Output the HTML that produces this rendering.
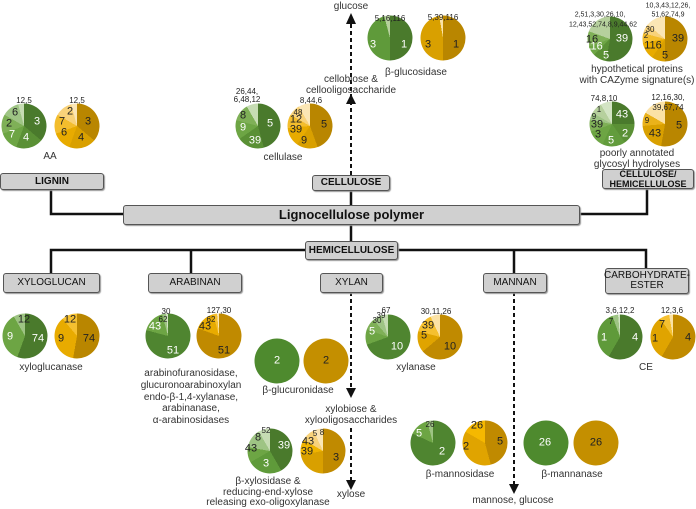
<!DOCTYPE html>
<html><head><meta charset="utf-8"><style>
body{margin:0;width:696px;height:506px;position:relative;background:#fff;font-family:"Liberation Sans",sans-serif;overflow:hidden}
.p{position:absolute;width:45px;height:45px;border-radius:50%;transform:translate(-50%,-50%)}
.t{position:absolute;transform:translate(-50%,-50%);font-size:11px;white-space:nowrap;color:#222;line-height:1}
.w{color:#fff}.s{font-size:8px}.x{font-size:7px}
.l{position:absolute;transform:translateX(-50%);font-size:10px;text-align:center;white-space:nowrap;line-height:10.5px;color:#333}
.b{position:absolute;background:#d0d0d0;border:1.5px solid #555;border-radius:3px;box-sizing:border-box;display:flex;align-items:center;justify-content:center;font-size:10px;color:#111;text-align:center;line-height:10px;box-shadow:1px 1px 1px #999}
.bb{font-weight:bold}
svg{position:absolute;left:0;top:0}
</style></head><body>
<svg width="696" height="506">
<g stroke="#111" stroke-width="2.5" fill="none">
<path d="M51 189V214H123"/><path d="M647 188V214H579"/>
<path d="M351 190V205"/><path d="M351 224V241"/>
<path d="M51 273V250H305"/><path d="M191 250V273"/><path d="M397 250H646V268"/><path d="M514 250V273"/>
</g>
<g stroke="#111" stroke-width="2" fill="none" stroke-dasharray="4,3">
<path d="M351 175V20"/><path d="M351 292V390"/><path d="M351 428V484"/><path d="M514 292V486"/>
</g>
<g fill="#111">
<path d="M346 24L351 13L356 24Z"/><path d="M346 104L351 94L356 104Z"/>
<path d="M346 388L351 398L356 388Z"/><path d="M346 480L351 490L356 480Z"/>
<path d="M509 484L514 494L519 484Z"/>
</g>
</svg>

<div class="b bb" style="left:0;top:173px;width:104px;height:17px">LIGNIN</div>
<div class="b bb" style="left:312px;top:175px;width:78px;height:16px">CELLULOSE</div>
<div class="b bb" style="left:602px;top:169px;width:92px;height:20px;font-size:9px">CELLULOSE/<br>HEMICELLULOSE</div>
<div class="b bb" style="left:123px;top:205px;width:457px;height:20px;font-size:13px">Lignocellulose polymer</div>
<div class="b bb" style="left:305px;top:241px;width:93px;height:19px">HEMICELLULOSE</div>
<div class="b" style="left:3px;top:273px;width:97px;height:20px">XYLOGLUCAN</div>
<div class="b" style="left:148px;top:273px;width:94px;height:20px">ARABINAN</div>
<div class="b" style="left:320px;top:273px;width:63px;height:20px">XYLAN</div>
<div class="b" style="left:483px;top:273px;width:64px;height:20px">MANNAN</div>
<div class="b" style="left:605px;top:268px;width:84px;height:26px">CARBOHYDRATE-<br>ESTER</div>

<!-- AA -->
<div class="p" style="left:24px;top:126px;background:conic-gradient(#4a7a2c 0 130deg,#5a9035 130deg 200deg,#6da544 200deg 250deg,#7fb057 250deg 300deg,#9ec484 300deg 345deg,#c6dcb3 345deg)"></div>
<div class="p" style="left:77px;top:126px;background:conic-gradient(#b98600 0 130deg,#d9a000 130deg 200deg,#e8ab00 200deg 250deg,#f3bd2d 250deg 300deg,#f8d27a 300deg 345deg,#fbe6b5 345deg)"></div>
<div class="t w" style="left:37px;top:122px">3</div><div class="t w" style="left:26px;top:138px">4</div><div class="t w" style="left:12px;top:135px">7</div><div class="t" style="left:9px;top:124px">2</div><div class="t" style="left:15px;top:113px">6</div><div class="t s" style="left:24px;top:101px">12,5</div>
<div class="t" style="left:88px;top:122px">3</div><div class="t" style="left:81px;top:138px">4</div><div class="t" style="left:64px;top:133px">6</div><div class="t" style="left:62px;top:122px">7</div><div class="t" style="left:70px;top:112px">2</div><div class="t s" style="left:77px;top:101px">12,5</div>
<div class="l" style="left:50px;top:152px">AA</div>

<!-- cellulase -->
<div class="p" style="left:258px;top:126px;background:conic-gradient(#4a7a2c 0 165deg,#5a9035 165deg 235deg,#6da544 235deg 285deg,#7fb057 285deg 330deg,#c6dcb3 330deg)"></div>
<div class="p" style="left:310px;top:126px;background:conic-gradient(#b98600 0 160deg,#d9a000 160deg 215deg,#e8ab00 215deg 265deg,#f3bd2d 265deg 300deg,#f8d27a 300deg 330deg,#fbe6b5 330deg)"></div>
<div class="t w" style="left:270px;top:124px">5</div><div class="t w" style="left:255px;top:141px">39</div><div class="t w" style="left:243px;top:128px">9</div><div class="t" style="left:243px;top:116px">8</div><div class="t s" style="left:247px;top:92px">26,44,</div><div class="t s" style="left:247px;top:100px">6,48,12</div>
<div class="t" style="left:324px;top:125px">5</div><div class="t" style="left:304px;top:141px">9</div><div class="t" style="left:296px;top:130px">39</div><div class="t" style="left:296px;top:120px">12</div><div class="t s" style="left:298px;top:113px">48</div><div class="t s" style="left:311px;top:101px">8,44,6</div>
<div class="l" style="left:283px;top:153px">cellulase</div>

<!-- glucosidase -->
<div class="p" style="left:390px;top:38px;background:conic-gradient(#4a7a2c 0 180deg,#5f9a3a 180deg 345deg,#b6d09d 345deg)"></div>
<div class="p" style="left:443px;top:38px;background:conic-gradient(#b98600 0 180deg,#d9a000 180deg 350deg,#fbe2a6 350deg)"></div>
<div class="t w" style="left:404px;top:45px">1</div><div class="t w" style="left:373px;top:45px">3</div><div class="t s" style="left:390px;top:19px">5,16,116</div>
<div class="t" style="left:456px;top:45px">1</div><div class="t" style="left:428px;top:45px">3</div><div class="t s" style="left:443px;top:18px">5,39,116</div>
<div class="l" style="left:416px;top:68px">β-glucosidase</div>
<div class="l" style="left:351px;top:2px">glucose</div>
<div class="l" style="left:351px;top:75px">cellobiose &amp;<br>cellooligosaccharide</div>

<!-- hypothetical -->
<div class="p" style="left:610px;top:39px;background:conic-gradient(#4a7a2c 0 190deg,#5a9035 190deg 225deg,#6da544 225deg 250deg,#7fb057 250deg 290deg,#b6d09d 290deg)"></div>
<div class="p" style="left:665px;top:39px;background:conic-gradient(#b98600 0 180deg,#d9a000 180deg 215deg,#e8ab00 215deg 260deg,#f3bd2d 260deg 285deg,#f8d27a 285deg 310deg,#fbe6b5 310deg)"></div>
<div class="t w" style="left:622px;top:39px">39</div><div class="t w" style="left:606px;top:56px">5</div><div class="t w" style="left:594px;top:47px">116</div><div class="t" style="left:592px;top:40px">16</div>
<div class="t x" style="left:600px;top:15px">2,51,3,30,26,10,</div><div class="t x" style="left:603px;top:25px">12,43,52,74,8,9,44,62</div>
<div class="t" style="left:678px;top:39px">39</div><div class="t" style="left:665px;top:56px">5</div><div class="t" style="left:653px;top:46px">116</div><div class="t s" style="left:646px;top:36px">2</div><div class="t s" style="left:650px;top:30px">30</div>
<div class="t x" style="left:668px;top:6px">10,3,43,12,26,</div><div class="t x" style="left:668px;top:15px">51,62,74,9</div>
<div class="l" style="left:637px;top:65px">hypothetical proteins<br>with CAZyme signature(s)</div>

<!-- poorly -->
<div class="p" style="left:612px;top:124px;background:conic-gradient(#4a7a2c 0 90deg,#5a9035 90deg 145deg,#629c3c 145deg 205deg,#6da544 205deg 250deg,#7fb057 250deg 280deg,#9ec484 280deg 300deg,#b6d09d 300deg 330deg,#d3e4c4 330deg)"></div>
<div class="p" style="left:665px;top:124px;background:conic-gradient(#b98600 0 190deg,#d9a000 190deg 265deg,#eab21a 265deg 300deg,#fbe2a6 300deg)"></div>
<div class="t w" style="left:622px;top:115px">43</div><div class="t w" style="left:625px;top:134px">2</div><div class="t w" style="left:611px;top:141px">5</div><div class="t" style="left:598px;top:135px">3</div><div class="t" style="left:597px;top:125px">39</div><div class="t s" style="left:594px;top:117px">9</div><div class="t s" style="left:599px;top:110px">1</div><div class="t s" style="left:604px;top:99px">74,8,10</div>
<div class="t" style="left:679px;top:126px">5</div><div class="t" style="left:655px;top:134px">43</div><div class="t s" style="left:647px;top:121px">9</div><div class="t s" style="left:668px;top:98px">12,16,30,</div><div class="t s" style="left:668px;top:108px">39,67,74</div>
<div class="l" style="left:637px;top:149px">poorly annotated<br>glycosyl hydrolyses</div>

<!-- xyloglucan -->
<div class="p" style="left:25px;top:336px;background:conic-gradient(#4a7a2c 0 200deg,#6da544 200deg 330deg,#9ec484 330deg)"></div>
<div class="p" style="left:77px;top:336px;background:conic-gradient(#b98600 0 190deg,#e8ab00 190deg 320deg,#f5c030 320deg)"></div>
<div class="t" style="left:24px;top:320px">12</div><div class="t w" style="left:38px;top:339px">74</div><div class="t w" style="left:10px;top:337px">9</div>
<div class="t" style="left:70px;top:320px">12</div><div class="t" style="left:89px;top:339px">74</div><div class="t" style="left:61px;top:339px">9</div>
<div class="l" style="left:51px;top:363px">xyloglucanase</div>

<!-- arabinan -->
<div class="p" style="left:168px;top:336px;background:conic-gradient(#4f8530 0 285deg,#6da544 285deg 345deg,#9ec484 345deg 355deg,#d3e4c4 355deg)"></div>
<div class="p" style="left:219px;top:336px;background:conic-gradient(#c08a00 0 290deg,#e8ab00 290deg 345deg,#f5c030 345deg 355deg,#fbe6b5 355deg)"></div>
<div class="t w" style="left:173px;top:351px">51</div><div class="t w" style="left:155px;top:327px">43</div><div class="t s" style="left:163px;top:320px">62</div><div class="t s" style="left:166px;top:312px">30</div>
<div class="t" style="left:224px;top:351px">51</div><div class="t" style="left:205px;top:327px">43</div><div class="t s" style="left:211px;top:320px">62</div><div class="t s" style="left:219px;top:311px">127,30</div>
<div class="l" style="left:191px;top:368px;line-height:11.8px">arabinofuranosidase,<br>glucuronoarabinoxylan<br>endo-β-1,4-xylanase,<br>arabinanase,<br>α-arabinosidases</div>

<!-- glucuronidase -->
<div class="p" style="left:277px;top:361px;background:#4e8a2e"></div>
<div class="p" style="left:326px;top:361px;background:#c48f00"></div>
<div class="t w" style="left:277px;top:361px">2</div><div class="t" style="left:326px;top:361px">2</div>
<div class="l" style="left:298px;top:386px">β-glucuronidase</div>

<!-- xylanase -->
<div class="p" style="left:388px;top:337px;background:conic-gradient(#4f8530 0 250deg,#6da544 250deg 290deg,#7fb057 290deg 320deg,#9ec484 320deg 345deg,#c6dcb3 345deg)"></div>
<div class="p" style="left:440px;top:337px;background:conic-gradient(#c08a00 0 230deg,#e0a400 230deg 285deg,#f5c030 285deg 335deg,#fbe2a6 335deg)"></div>
<div class="t w" style="left:397px;top:347px">10</div><div class="t w" style="left:372px;top:332px">5</div><div class="t s" style="left:377px;top:321px">30</div><div class="t s" style="left:381px;top:316px">39</div><div class="t s" style="left:386px;top:311px">67</div>
<div class="t" style="left:450px;top:347px">10</div><div class="t" style="left:424px;top:336px">5</div><div class="t" style="left:428px;top:326px">39</div><div class="t s" style="left:436px;top:312px">30,11,26</div>
<div class="l" style="left:416px;top:363px">xylanase</div>

<!-- CE -->
<div class="p" style="left:620px;top:337px;background:conic-gradient(#4a7a2c 0 210deg,#5f9a3a 210deg 340deg,#9ec484 340deg 355deg,#d3e4c4 355deg)"></div>
<div class="p" style="left:673px;top:337px;background:conic-gradient(#c08a00 0 210deg,#e0a400 210deg 325deg,#f5c030 325deg 350deg,#fbe2a6 350deg)"></div>
<div class="t w" style="left:635px;top:338px">4</div><div class="t w" style="left:604px;top:338px">1</div><div class="t s" style="left:611px;top:322px">7</div><div class="t s" style="left:620px;top:311px">3,6,12,2</div>
<div class="t" style="left:688px;top:338px">4</div><div class="t" style="left:655px;top:339px">1</div><div class="t" style="left:662px;top:325px">7</div><div class="t s" style="left:672px;top:311px">12,3,6</div>
<div class="l" style="left:646px;top:363px">CE</div>

<div class="l" style="left:351px;top:405px">xylobiose &amp;<br>xylooligosaccharides</div>

<!-- xylosidase -->
<div class="p" style="left:270px;top:451px;background:conic-gradient(#4a7a2c 0 150deg,#5f9a3a 150deg 240deg,#6da544 240deg 280deg,#9ec484 280deg 330deg,#c6dcb3 330deg)"></div>
<div class="p" style="left:323px;top:451px;background:conic-gradient(#c08a00 0 180deg,#d9a000 180deg 260deg,#f0b400 260deg 300deg,#f8d27a 300deg 335deg,#fbe6b5 335deg)"></div>
<div class="t w" style="left:284px;top:446px">39</div><div class="t w" style="left:266px;top:464px">3</div><div class="t" style="left:251px;top:449px">43</div><div class="t" style="left:258px;top:438px">8</div><div class="t s" style="left:266px;top:431px">52</div>
<div class="t" style="left:336px;top:458px">3</div><div class="t" style="left:307px;top:452px">39</div><div class="t" style="left:308px;top:442px">43</div><div class="t s" style="left:315px;top:434px">5</div><div class="t s" style="left:322px;top:433px">8</div>
<div class="l" style="left:268px;top:477px;line-height:10.5px">β-xylosidase &amp;<br>reducing-end-xylose<br>releasing exo-oligoxylanase</div>
<div class="l" style="left:351px;top:490px">xylose</div>

<!-- mannosidase -->
<div class="p" style="left:433px;top:443px;background:conic-gradient(#4f8530 0 295deg,#6da544 295deg 345deg,#9ec484 345deg)"></div>
<div class="p" style="left:485px;top:443px;background:conic-gradient(#c08a00 0 165deg,#e0a400 165deg 300deg,#f5b800 300deg)"></div>
<div class="t w" style="left:442px;top:452px">2</div><div class="t w" style="left:419px;top:434px">5</div><div class="t s" style="left:430px;top:425px">26</div>
<div class="t" style="left:500px;top:442px">5</div><div class="t" style="left:466px;top:447px">2</div><div class="t" style="left:477px;top:426px">26</div>
<div class="l" style="left:460px;top:470px">β-mannosidase</div>

<!-- mannanase -->
<div class="p" style="left:546px;top:443px;background:#4e8a2e"></div>
<div class="p" style="left:596px;top:443px;background:#c48f00"></div>
<div class="t w" style="left:545px;top:443px">26</div><div class="t" style="left:596px;top:443px">26</div>
<div class="l" style="left:572px;top:470px">β-mannanase</div>
<div class="l" style="left:513px;top:496px">mannose, glucose</div>
</body></html>
